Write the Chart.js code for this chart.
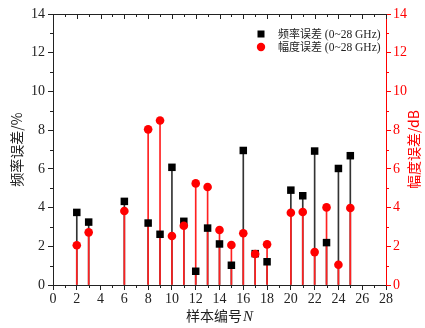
<!DOCTYPE html>
<html>
<head>
<meta charset="utf-8">
<script src="https://cdn.jsdelivr.net/npm/chart.js@4.4.1/dist/chart.umd.min.js"></script>
<style>
  body { margin: 0; background: #fff; }
  #wrap { width: 425px; height: 328px; }
</style>
</head>
<body>
<div id="wrap"><canvas id="myChart" width="425" height="328"></canvas></div>
<script>
'use strict';

// sample numbers and the two error series
const samples = [2, 3, 6, 8, 9, 10, 11, 12, 13, 14, 15, 16, 17, 18, 20, 21, 22, 23, 24, 25];
const freqError = [3.75, 3.25, 4.32, 3.2, 2.62, 6.08, 3.29, 0.71, 2.94, 2.12, 1.02, 6.95, 1.62, 1.2, 4.9, 4.61, 6.92, 2.19, 6.02, 6.68];
const ampError = [2.05, 2.72, 3.82, 8.04, 8.5, 2.53, 3.06, 5.25, 5.06, 2.84, 2.07, 2.67, 1.6, 2.1, 3.73, 3.77, 1.7, 4.01, 1.05, 3.98];
const freqLabel = '频率误差 (0~28 GHz)';
const ampLabel = '幅度误差 (0~28 GHz)';

const RED = '#ff0000';
const INK = '#222222';
const serif = "'Liberation Serif', 'Times New Roman', serif";
const cjk = "'Noto Sans CJK SC', sans-serif";

const pts = (vals) => samples.map((x, i) => ({ x: x, y: vals[i] }));

// minor ticks, top frame ticks, axis titles and the legend box
const decorations = {
  id: 'decorations',
  afterDraw(chart) {
    const ctx = chart.ctx;
    const { x, y, y2 } = chart.scales;
    const area = chart.chartArea;
    ctx.save();
    ctx.lineWidth = 1;

    ctx.strokeStyle = INK;
    for (let v = 0; v <= 28; v++) {
      const px = Math.round(x.getPixelForValue(v)) + 0.5;
      const len = v % 2 ? 3 : 5;
      ctx.beginPath();
      ctx.moveTo(px, area.top);
      ctx.lineTo(px, area.top + len);
      if (v % 2) {
        ctx.moveTo(px, area.bottom);
        ctx.lineTo(px, area.bottom + 3);
      }
      ctx.stroke();
    }
    for (let v = 1; v < 14; v += 2) {
      const py = Math.round(y.getPixelForValue(v)) + 0.5;
      ctx.strokeStyle = INK;
      ctx.beginPath();
      ctx.moveTo(area.left, py);
      ctx.lineTo(area.left - 3, py);
      ctx.stroke();
      const py2 = Math.round(y2.getPixelForValue(v)) + 0.5;
      ctx.strokeStyle = RED;
      ctx.beginPath();
      ctx.moveTo(area.right, py2);
      ctx.lineTo(area.right + 3, py2);
      ctx.stroke();
    }

    const midY = (area.top + area.bottom) / 2;
    ctx.textAlign = 'center';
    ctx.textBaseline = 'middle';

    ctx.fillStyle = INK;
    ctx.font = '14px ' + cjk;
    ctx.save();
    ctx.translate(17, midY);
    ctx.rotate(-Math.PI / 2);
    ctx.fillText('频率误差/%', 0, 0);
    ctx.restore();

    ctx.fillStyle = RED;
    ctx.save();
    ctx.translate(414, midY);
    ctx.rotate(-Math.PI / 2);
    ctx.fillText('幅度误差/dB', 0, 0);
    ctx.restore();

    // x title with italic N
    ctx.fillStyle = INK;
    ctx.textAlign = 'left';
    ctx.font = '14px ' + cjk;
    const head = '样本编号';
    const w1 = ctx.measureText(head).width;
    ctx.font = 'italic 15px ' + serif;
    const w2 = ctx.measureText('N').width;
    const startX = (area.left + area.right) / 2 - (w1 + w2 + 1) / 2;
    ctx.font = '14px ' + cjk;
    ctx.fillText(head, startX, 316);
    ctx.font = 'italic 15px ' + serif;
    ctx.fillText('N', startX + w1 + 1, 317);

    // legend
    const items = [
      { label: freqLabel, color: '#000', shape: 'rect', ly: 34 },
      { label: ampLabel, color: RED, shape: 'circle', ly: 47 }
    ];
    items.forEach(it => {
      ctx.fillStyle = it.color;
      if (it.shape === 'rect') {
        ctx.fillRect(257.5, it.ly - 3.5, 7, 7);
      } else {
        ctx.beginPath();
        ctx.arc(261, it.ly, 4.2, 0, Math.PI * 2);
        ctx.fill();
      }
      ctx.fillStyle = INK;
      ctx.textBaseline = 'middle';
      ctx.font = '11px ' + cjk;
      const cn = it.label.slice(0, 4);
      ctx.fillText(cn, 278, it.ly);
      const cw = ctx.measureText(cn).width;
      ctx.font = '11.5px ' + serif;
      ctx.fillText(it.label.slice(4), 278 + cw, it.ly + 0.5);
    });

    ctx.restore();
  }
};

const data = {
  datasets: [
    {
      type: 'bar',
      data: pts(freqError),
      yAxisID: 'y',
      backgroundColor: '#333333',
      barThickness: 1,
      grouped: false,
      order: 4
    },
    {
      type: 'bar',
      data: pts(ampError),
      yAxisID: 'y2',
      backgroundColor: '#ff2020',
      barThickness: 1,
      grouped: false,
      order: 3
    },
    {
      type: 'line',
      label: freqLabel,
      data: pts(freqError),
      yAxisID: 'y',
      showLine: false,
      pointStyle: 'rect',
      pointRadius: 5.3,
      pointBorderWidth: 0,
      pointBackgroundColor: '#000',
      order: 2
    },
    {
      type: 'line',
      label: ampLabel,
      data: pts(ampError),
      yAxisID: 'y2',
      showLine: false,
      pointStyle: 'circle',
      pointRadius: 4.3,
      pointBorderWidth: 0,
      pointBackgroundColor: RED,
      order: 1
    }
  ]
};

const config = {
  type: 'bar',
  data: data,
  options: {
    responsive: false,
    animation: false,
    events: [],
    layout: { padding: { top: 14, left: 0, right: 0, bottom: 0 } },
    plugins: {
      legend: { display: false },
      tooltip: { enabled: false }
    },
    scales: {
      x: {
        type: 'linear',
        position: 'bottom',
        min: 0,
        max: 28,
        offset: false,
        afterFit: (s) => { s.height = 43; },
        ticks: { stepSize: 2, color: INK, padding: 1, font: { family: serif, size: 14 } },
        grid: { display: true, drawOnChartArea: false, offset: false, tickLength: 5, color: INK },
        border: { display: true, color: INK }
      },
      x2: {
        type: 'linear',
        position: 'top',
        min: 0,
        max: 28,
        afterFit: (s) => { s.height = 0; },
        ticks: { display: false },
        grid: { display: true, drawOnChartArea: false, drawTicks: false },
        border: { display: true, color: INK }
      },
      y: {
        type: 'linear',
        position: 'left',
        min: 0,
        max: 14,
        afterFit: (s) => { s.width = 53; },
        ticks: { stepSize: 2, color: INK, padding: 3, font: { family: serif, size: 14 } },
        grid: { display: true, drawOnChartArea: false, tickLength: 5, color: INK },
        border: { display: true, color: INK }
      },
      y2: {
        type: 'linear',
        position: 'right',
        min: 0,
        max: 14,
        afterFit: (s) => { s.width = 39; },
        ticks: { stepSize: 2, color: RED, padding: 2, font: { family: serif, size: 14 } },
        grid: { display: true, drawOnChartArea: false, tickLength: 5, color: RED },
        border: { display: true, color: RED }
      }
    }
  },
  plugins: [decorations]
};

const myChart = new Chart(document.getElementById('myChart'), config);
</script>
</body>
</html>
